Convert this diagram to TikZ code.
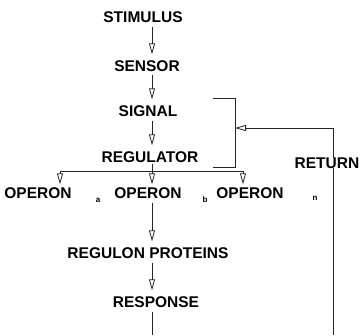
\documentclass[tikz,border=0pt]{standalone}
\usepackage{fontspec}
\setmainfont{Liberation Sans}
\usetikzlibrary{arrows.meta}
\begin{document}
\begin{tikzpicture}[x=1pt, y=-1pt,
  lbl/.style={font=\fontsize{15.5}{17}\selectfont\bfseries, inner sep=1pt},
  sublbl/.style={font=\fontsize{8}{9}\selectfont\bfseries, inner sep=0.5pt},
  flow/.style={draw=\flowLineColor, line width=\flowLineWidth,
    -{Triangle[open, length=11pt, width=6pt, line width=0.8pt]}},
  plain/.style={draw=\flowLineColor, line width=\flowLineWidth}]
% Signal pathway from stimulus to response, with return loop
\providecommand{\flowLineColor}{black!85}
\providecommand{\flowLineWidth}{0.6pt}
\useasboundingbox (0,0) rectangle (363,335);
% Main column
\node[lbl] (stim) at (143,17) {STIMULUS};
\node[lbl] (sens) at (147,66) {SENSOR};
\node[lbl] (sig) at (148,111) {SIGNAL};
\node[lbl] (reg) at (150,157) {REGULATOR};
% Operons
\node[lbl] (opa) at (38,193) {OPERON};
\node[lbl] (opb) at (148,193) {OPERON};
\node[lbl] (opn) at (250,193) {OPERON};
\node[sublbl] (suba) at (98,200) {a};
\node[sublbl] (subb) at (205,200) {b};
\node[sublbl] (subn) at (315,198) {n};
\node[lbl] (prot) at (148,253) {REGULON PROTEINS};
\node[lbl] (resp) at (156,302) {RESPONSE};
\node[lbl] (ret) at (327,163) {RETURN};
% Branch points and loop corners
\coordinate (brl) at (60,171);
\coordinate (brc) at (152,171);
\coordinate (brr) at (243,171);
\coordinate (bktop) at (213,98);
\coordinate (bkbot) at (213,167);
\coordinate (bkx) at (235,128);
\coordinate (rtop) at (333,128);
\coordinate (rbot) at (333,335);
\coordinate (cbot) at (152,335);
% Arrows down the column
\draw[flow] ([yshift=-3pt]stim.south -| brc) -- ([yshift=5pt]sens.north -| brc);
\draw[flow] ([yshift=-2pt]sens.south -| brc) -- ([yshift=5pt]sig.north -| brc);
\draw[flow] ([yshift=-3pt]sig.south -| brc) -- ([yshift=5pt]reg.north -| brc);
\draw[plain] (reg.south -| brc) -- (brc);
\draw[plain] (brl) -- (brr);
\draw[flow] (brl) -- ([yshift=2pt]opa.north -| brl);
\draw[flow] (brc) -- ([yshift=2pt]opb.north -| brc);
\draw[flow] (brr) -- ([yshift=2pt]opn.north -| brr);
\draw[flow] ([yshift=-3pt]opb.south -| brc) -- ([yshift=5pt]prot.north -| brc);
\draw[flow] ([yshift=-3pt]prot.south -| brc) -- ([yshift=5pt]resp.north -| brc);
\draw[plain] ([yshift=-3pt]resp.south -| brc) -- (cbot);
% Bracket and return loop
\draw[plain] (bktop) -| (bkbot -| bkx) -- (bkbot);
\draw[plain] ([yshift=-2pt]ret.north -| rtop) -- (rtop);
\draw[flow] (rtop) -- (bkx);
\draw[plain] ([yshift=2pt]ret.south -| rtop) -- (rbot);
\end{tikzpicture}
\end{document}
